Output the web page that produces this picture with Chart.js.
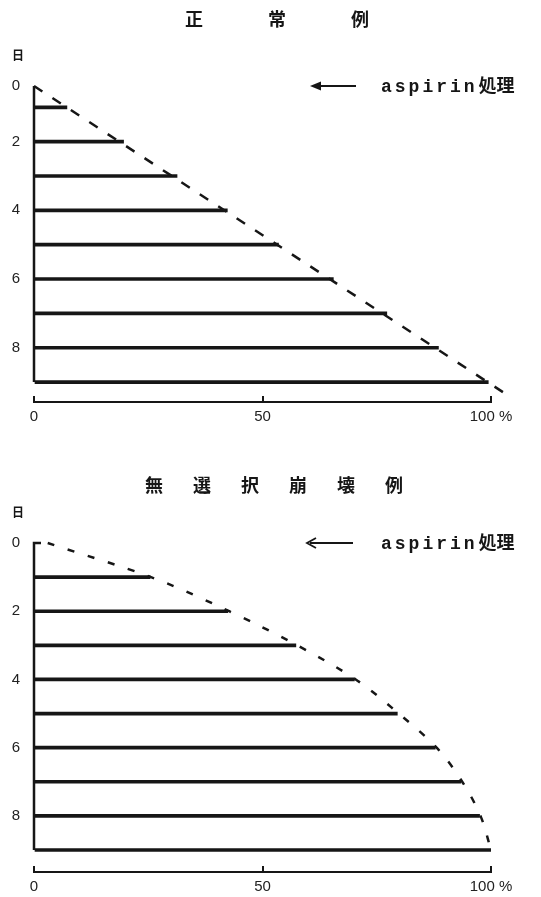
<!DOCTYPE html>
<html>
<head>
<meta charset="utf-8">
<title>aspirin処理</title>
<script src="https://cdn.jsdelivr.net/npm/chart.js@4.4.1/dist/chart.umd.min.js"></script>
<style>
  body { margin: 0; background: #fff; }
  .box { position: relative; width: 541px; }
  canvas { display: block; }
</style>
</head>
<body>
<div class="box" style="height: 440px"><canvas id="chartNormal"></canvas></div>
<div class="box" style="height: 457px"><canvas id="chartCollapse"></canvas></div>
<script>
// Data

const days = [1, 2, 3, 4, 5, 6, 7, 8, 9];
const dayTicks = [0, 2, 4, 6, 8];
const dayLabels = ["0", "2", "4", "6", "8"];
const pctTicks = [0, 50, 100];
const pctLabels = ["0", "50", "100 %"];

// 正常例
const normalTitle = ["正", "常", "例"];
const normalPct = [7.2, 19.6, 31.3, 42.3, 53.5, 65.5, 77.2, 88.5, 99.4];
const normalEdgeDay = [0.38, 9.3];
const normalEdgePct = [0, 102.7];

// 無選択崩壊例
const collapseTitle = ["無", "選", "択", "崩", "壊", "例"];
const collapsePct = [25.4, 42.4, 57.3, 70.1, 79.5, 87.8, 93.4, 97.5, 100];
const collapseEdgeDay = [0, 1, 2, 3, 4, 5, 6, 7, 8, 9];
const collapseEdgePct = [3, 25.6, 42.7, 57.6, 70.4, 79.8, 88.1, 93.7, 97.7, 100];

const ink = "#161616";

//Extra drawing: y axis line, titles, arrow

const extras = {
  id: "extras",
  afterDraw(chart, args, o) {
    const ctx = chart.ctx;
    const x = chart.scales.x;
    const y = chart.scales.y;
    const x0 = x.getPixelForValue(0);
    ctx.save();
    ctx.strokeStyle = ink;
    ctx.fillStyle = ink;

    // y axis, stops at the last bar
    ctx.lineWidth = 2.5;
    ctx.beginPath();
    ctx.moveTo(x0 + o.hook, y.top);
    ctx.lineTo(x0, y.top);
    ctx.lineTo(x0, y.getPixelForValue(9));
    ctx.stroke();

    // title
    ctx.font = 'bold 18px "Noto Sans CJK JP"';
    ctx.textAlign = "center";
    ctx.textBaseline = "middle";
    o.title.forEach((c, i) => {
      ctx.fillText(c, o.titleX + (i - (o.title.length - 1) / 2) * o.titleGap, o.titleY);
    });

    // 日
    ctx.font = 'bold 12px "Noto Sans CJK JP"';
    ctx.fillText("日", 18, y.top - 31);

    // arrow + aspirin処理
    const ay = y.top;
    ctx.lineWidth = 2;
    ctx.beginPath();
    ctx.moveTo(o.arrowTip + 3, ay);
    ctx.lineTo(o.arrowEnd, ay);
    ctx.stroke();
    ctx.beginPath();
    if (o.solidHead) {
      ctx.moveTo(o.arrowTip, ay);
      ctx.lineTo(o.arrowTip + 11, ay - 4.5);
      ctx.lineTo(o.arrowTip + 11, ay + 4.5);
      ctx.closePath();
      ctx.fill();
    } else {
      ctx.lineWidth = 1.8;
      ctx.moveTo(o.arrowTip + 9, ay - 5);
      ctx.lineTo(o.arrowTip, ay);
      ctx.lineTo(o.arrowTip + 9, ay + 5);
      ctx.stroke();
    }
    ctx.textAlign = "left";
    ctx.textBaseline = "alphabetic";
    ctx.font = 'bold 18px "Liberation Mono"';
    ctx.letterSpacing = "3px";
    ctx.fillText("aspirin", 381, ay + 5.5);
    const w = ctx.measureText("aspirin").width;
    ctx.letterSpacing = "0px";
    ctx.font = 'bold 18px "Noto Sans CJK JP"';
    ctx.fillText("処理", 381 + w + 1, ay + 6);
    ctx.restore();
  },
};

//Config

function makeChart(id, p) {
  const config = {
    type: "bar",
    data: {
      datasets: [
        {
          type: "line",
          data: p.edgePct.map((v, i) => ({ x: v, y: p.edgeDay[i] })),
          borderColor: ink,
          borderWidth: 2.5,
          borderDash: p.dash,
          pointRadius: 0,
          fill: false,
          clip: false,
          tension: 0,
          cubicInterpolationMode: p.smooth ? "monotone" : "default",
        },
        {
          type: "bar",
          data: p.pct.map((v, i) => ({ x: v, y: days[i] })),
          backgroundColor: ink,
          borderWidth: 0,
          barThickness: 3,
        },
      ],
    },
    options: {
      indexAxis: "y",
      responsive: true,
      maintainAspectRatio: false,
      animation: false,
      layout: { padding: { top: p.top, right: 50, bottom: p.bottom, left: 0 } },
      plugins: {
        legend: { display: false },
        title: { display: false },
        tooltip: { enabled: false },
        extras: p.extras,
      }, //plugins
      scales: {
        x: {
          type: "linear",
          min: 0,
          max: 100,
          afterBuildTicks: (s) => {
            s.ticks = pctTicks.map((v) => ({ value: v }));
          },
          afterFit: (s) => {
            s.height = 24;
          },
          border: { display: true, color: ink, width: 2 },
          grid: {
            display: true,
            drawOnChartArea: false,
            drawTicks: true,
            tickLength: -6,
            color: ink,
            lineWidth: 2,
          },
          ticks: {
            padding: 12,
            color: "#222",
            maxRotation: 0,
            autoSkip: false,
            font: { family: "Liberation Sans", size: 15 },
            callback: (v, i) => pctLabels[i],
          },
        }, //x
        y: {
          type: "linear",
          reverse: true,
          offset: false,
          min: p.dayMin,
          max: p.dayMax,
          afterBuildTicks: (s) => {
            s.ticks = dayTicks.map((d) => ({ value: Math.max(d, s.min) }));
          },
          afterFit: (s) => {
            s.width = 34;
          },
          border: { display: false },
          grid: { display: false, drawTicks: false },
          ticks: {
            padding: 14,
            color: "#222",
            autoSkip: false,
            font: { family: "Liberation Sans", size: 15 },
            callback: (v, i) => dayLabels[i],
          },
        }, //y
      }, //scales
    }, //options
    plugins: [extras],
  };
  return new Chart(document.getElementById(id), config);
}

//Render charts

makeChart("chartNormal", {
  pct: normalPct,
  edgePct: normalEdgePct,
  edgeDay: normalEdgeDay,
  dash: [10, 12],
  smooth: false,
  top: 86,
  bottom: 14,
  dayMin: 0.38,
  dayMax: 9.58,
  extras: {
    title: normalTitle,
    titleX: 277,
    titleGap: 83,
    titleY: 19,
    hook: 0,
    solidHead: true,
    arrowTip: 310,
    arrowEnd: 356,
  },
});

makeChart("chartCollapse", {
  pct: collapsePct,
  edgePct: collapseEdgePct,
  edgeDay: collapseEdgeDay,
  dash: [7, 14],
  smooth: true,
  top: 103,
  bottom: 1,
  dayMin: 0,
  dayMax: 9.645,
  extras: {
    title: collapseTitle,
    titleX: 274,
    titleGap: 48,
    titleY: 45,
    hook: 7,
    solidHead: false,
    arrowTip: 307,
    arrowEnd: 353,
  },
});
</script>
</body>
</html>
